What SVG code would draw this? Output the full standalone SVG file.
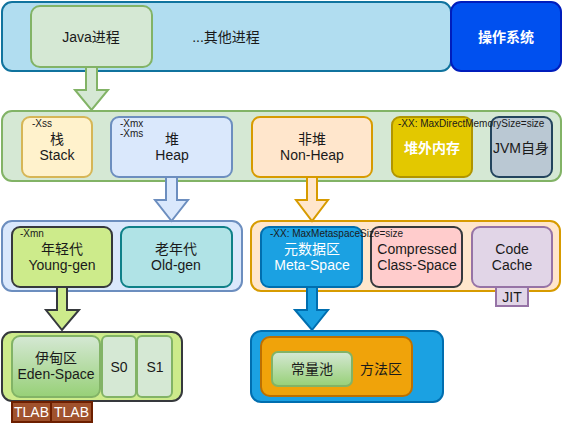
<svg xmlns="http://www.w3.org/2000/svg" width="563" height="423" viewBox="0 0 563 423">
<style>
text{font-family:"Liberation Sans","Noto Sans CJK SC",Arial,sans-serif;font-size:14px;fill:#1a1a1a;text-anchor:middle}
.s{font-size:10px;text-anchor:start}
.w{fill:#ffffff}
.b{font-weight:bold}
rect,polygon{stroke-width:2}
</style>
<defs>
<linearGradient id="g" x1="0" y1="0" x2="0" y2="1">
<stop offset="0" stop-color="#d5e8d4"/>
<stop offset="1" stop-color="#97d077"/>
</linearGradient>
</defs>
<g id="process-row">
<rect x="2" y="2" width="449" height="69" rx="10" fill="#b1ddf0" stroke="#10739e"/>
<text x="226" y="42">...其他进程</text>
</g>
<g id="java-process">
<rect x="31" y="6" width="121" height="61" rx="9" fill="#d5e8d4" stroke="#82b366"/>
<text x="91" y="42">Java进程</text>
</g>
<g id="os">
<rect x="451" y="2" width="110" height="69" rx="10" fill="#0050ef" stroke="#001dbc"/>
<text x="506" y="42" class="w b">操作系统</text>
</g>
<g id="jvm-row">
<rect x="2" y="111" width="559" height="70" rx="10" fill="#d5e8d4" stroke="#82b366"/>
</g>
<g id="stack">
<rect x="22" y="117" width="70" height="60" rx="8" fill="#fff2cc" stroke="#d6b656"/>
<text x="32" y="127" class="s">-Xss</text>
<text x="57" y="144">栈</text>
<text x="57" y="160">Stack</text>
</g>
<g id="heap">
<rect x="111" y="117" width="121" height="60" rx="8" fill="#dae8fc" stroke="#6c8ebf"/>
<text x="120" y="127" class="s">-Xmx</text>
<text x="120" y="137" class="s">-Xms</text>
<text x="172" y="144">堆</text>
<text x="172" y="160">Heap</text>
</g>
<g id="non-heap">
<rect x="252" y="117" width="120" height="60" rx="8" fill="#ffe6cc" stroke="#d79b00"/>
<text x="312" y="144">非堆</text>
<text x="312" y="160">Non-Heap</text>
</g>
<g id="jvm-self">
<rect x="491" y="117" width="61" height="60" rx="8" fill="#bac8d3" stroke="#23445d"/>
<text x="521" y="153">JVM自身</text>
</g>
<g id="direct-memory">
<rect x="392" y="117" width="80" height="60" rx="8" fill="#e3c800" stroke="#b09500"/>
<text x="432" y="153" class="w b">堆外内存</text>
<text x="398" y="127" class="s">-XX: MaxDirectMemorySize=size</text>
</g>
<g id="heap-row">
<rect x="2" y="221" width="240" height="70" rx="10" fill="#dae8fc" stroke="#6c8ebf"/>
</g>
<g id="young">
<rect x="12" y="227" width="100" height="60" rx="8" fill="#cdeb8b" stroke="#36393d"/>
<text x="20" y="237" class="s">-Xmn</text>
<text x="62" y="254">年轻代</text>
<text x="62" y="270">Young-gen</text>
</g>
<g id="old">
<rect x="121" y="227" width="111" height="60" rx="8" fill="#b0e3e6" stroke="#0e8088"/>
<text x="176" y="254">老年代</text>
<text x="176" y="270">Old-gen</text>
</g>
<g id="nonheap-row">
<rect x="251" y="221" width="309" height="70" rx="10" fill="#ffe6cc" stroke="#d79b00"/>
</g>
<g id="compressed">
<rect x="371" y="227" width="91" height="60" rx="8" fill="#ffcccc" stroke="#36393d"/>
<text x="417" y="254">Compressed</text>
<text x="417" y="270">Class-Space</text>
</g>
<g id="code-cache">
<rect x="472" y="227" width="80" height="60" rx="8" fill="#e1d5e7" stroke="#9673a6"/>
<text x="512" y="254">Code</text>
<text x="512" y="270">Cache</text>
</g>
<g id="metaspace">
<rect x="261" y="227" width="101" height="60" rx="8" fill="#1ba1e2" stroke="#006eaf"/>
<text x="312" y="254" class="w">元数据区</text>
<text x="312" y="270" class="w">Meta-Space</text>
<text x="270" y="237" class="s">-XX: MaxMetaspaceSize=size</text>
</g>
<g id="jit">
<rect x="496" y="287" width="32" height="19" fill="#e1d5e7" stroke="#9673a6"/>
<text x="512" y="302">JIT</text>
</g>
<g id="young-row">
<rect x="2" y="332" width="180" height="69" rx="10" fill="#cdeb8b" stroke="#36393d"/>
</g>
<g id="eden">
<rect x="12" y="336" width="88" height="61" rx="8" fill="url(#g)" stroke="#82b366"/>
<text x="56" y="363">伊甸区</text>
<text x="56" y="379">Eden-Space</text>
</g>
<g id="s0">
<rect x="102" y="336" width="34" height="61" rx="5" fill="#d5e8d4" stroke="#82b366"/>
<text x="119" y="372">S0</text>
</g>
<g id="s1">
<rect x="137" y="336" width="35" height="61" rx="5" fill="#d5e8d4" stroke="#82b366"/>
<text x="155" y="372">S1</text>
</g>
<g id="tlab1">
<rect x="12" y="402" width="39" height="20" fill="#a0522d" stroke="#6d1f00"/>
<text x="31.5" y="417" class="w">TLAB</text>
</g>
<g id="tlab2">
<rect x="51" y="402" width="41" height="20" fill="#a0522d" stroke="#6d1f00"/>
<text x="71.5" y="417" class="w">TLAB</text>
</g>
<g id="method-outer">
<rect x="251" y="331" width="192" height="71" rx="10" fill="#1ba1e2" stroke="#006eaf"/>
</g>
<g id="method-area">
<rect x="261" y="337" width="151" height="59" rx="9" fill="#f0a30a" stroke="#bd7000"/>
<text x="381" y="374">方法区</text>
</g>
<g id="constant-pool">
<rect x="272" y="352" width="80" height="34" rx="6" fill="url(#g)" stroke="#82b366"/>
<text x="312" y="374">常量池</text>
</g>
<g id="connectors">
<polygon points="86,67 97,67 97,90 108,90 91.5,110 75,90 86,90" fill="#d5e8d4" stroke="#82b366"/>
<polygon points="166,177 177,177 177,200 188,200 171.5,221 155,200 166,200" fill="#dae8fc" stroke="#6c8ebf"/>
<polygon points="307,177 317,177 317,200 328,200 312,221 296,200 307,200" fill="#ffe6cc" stroke="#d79b00"/>
<polygon points="57,287 67,287 67,310 79,310 62,330 46,310 57,310" fill="#cdeb8b" stroke="#36393d"/>
<polygon points="307,287 317,287 317,310 328,310 312,330 295,310 307,310" fill="#1ba1e2" stroke="#006eaf"/>
</g>
</svg>
